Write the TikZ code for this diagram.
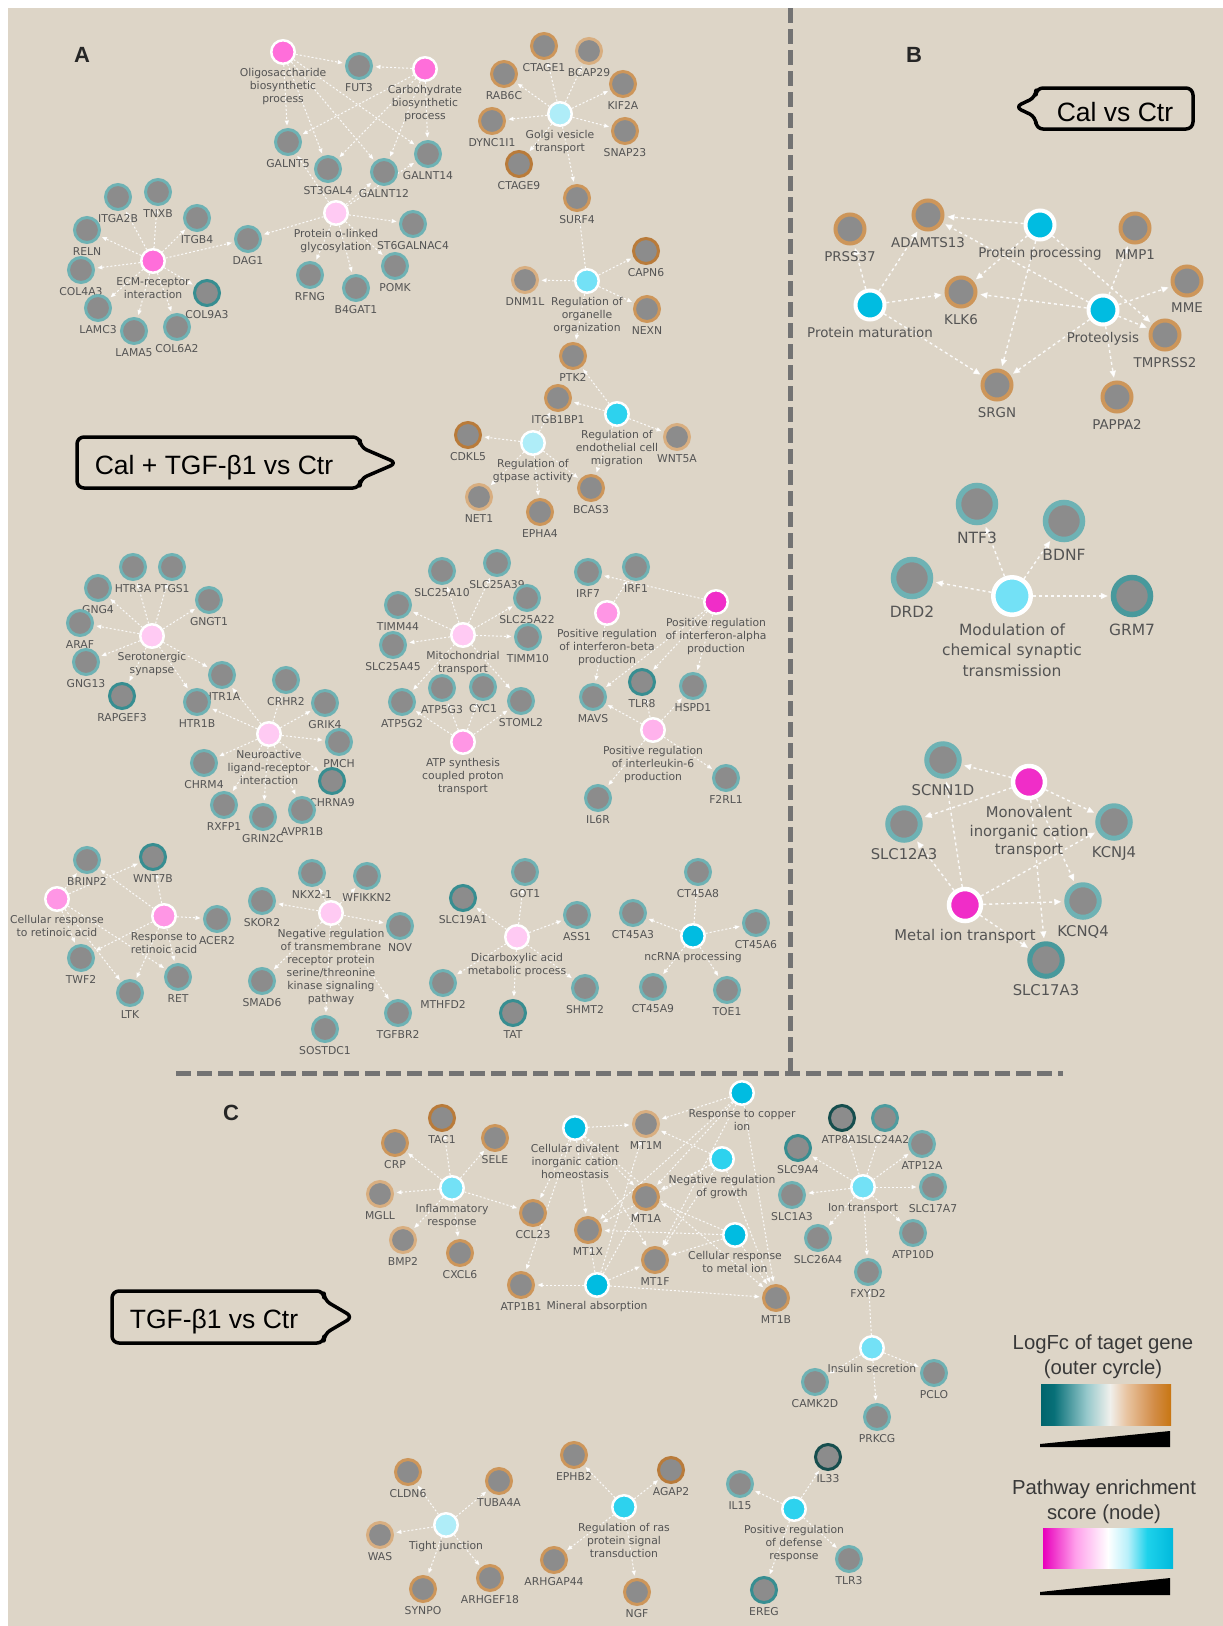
\documentclass[tikz,border=0pt]{standalone}
\usepackage{fontspec}
\setmainfont{DejaVu Sans}
\newfontfamily\arialfam{Liberation Sans}
\usetikzlibrary{arrows.meta}

\definecolor{bgbeige}{RGB}{221,213,199}
\definecolor{genegray}{RGB}{140,140,140}
\definecolor{txtgray}{RGB}{84,84,84}
\definecolor{sepgray}{RGB}{115,115,115}
\definecolor{tealring}{RGB}{110,178,180}
\definecolor{tealmid}{RGB}{55,142,145}
\definecolor{tealdark}{RGB}{22,78,78}
\definecolor{orring}{RGB}{205,150,90}
\definecolor{ordark}{RGB}{185,123,58}
\definecolor{orlight}{RGB}{216,174,128}
\definecolor{pkhot}{RGB}{240,45,200}
\definecolor{pkmag}{RGB}{255,110,218}
\definecolor{pkmid}{RGB}{255,150,229}
\definecolor{pksoft}{RGB}{255,178,236}
\definecolor{pklight}{RGB}{255,202,243}
\definecolor{cydeep}{RGB}{0,188,225}
\definecolor{cymid}{RGB}{45,210,238}
\definecolor{cylight}{RGB}{115,225,246}
\definecolor{cypale}{RGB}{175,237,248}

\definecolor{lfa}{RGB}{0,100,108}
\definecolor{lfb}{RGB}{8,112,120}
\definecolor{lfc}{RGB}{150,200,203}
\definecolor{lfd}{RGB}{240,240,236}
\definecolor{lfe}{RGB}{232,195,160}
\definecolor{lff}{RGB}{210,140,70}
\definecolor{lfg}{RGB}{200,118,18}
\definecolor{pesa}{RGB}{232,0,188}
\definecolor{pesb}{RGB}{255,160,235}
\definecolor{pesc}{RGB}{255,255,255}
\definecolor{pesd}{RGB}{185,240,250}
\definecolor{pese}{RGB}{30,210,235}
\definecolor{pesf}{RGB}{0,185,220}

\pgfdeclarehorizontalshading{logfcbar}{100bp}{color(0bp)=(lfa); color(25bp)=(lfa); color(30bp)=(lfb); color(42.5bp)=(lfc); color(51.5bp)=(lfd); color(58bp)=(lfe); color(68.5bp)=(lff); color(75bp)=(lfg); color(100bp)=(lfg)}
\pgfdeclarehorizontalshading{enrichbar}{100bp}{color(0bp)=(pesa); color(25bp)=(pesa); color(37.5bp)=(pesb); color(50bp)=(pesc); color(57.5bp)=(pesd); color(65bp)=(pese); color(75bp)=(pesf); color(100bp)=(pesf)}

\newcommand{\labsmall}{\fontsize{10.8}{13}\selectfont}
\newcommand{\labtop}{\fontsize{13.4}{17}\selectfont}
\newcommand{\labmid}{\fontsize{15.5}{20.5}\selectfont}
\newcommand{\lablow}{\fontsize{14.8}{18.5}\selectfont}

\pgfdeclarelayer{back}
\pgfdeclarelayer{links}
\pgfsetlayers{back,links,main}

\tikzset{
  gene/.style={circle, fill=genegray, draw=#1, line width=3pt, minimum size=25pt, inner sep=0pt},
  term/.style={circle, fill=#1, draw=white, line width=2.5pt, minimum size=23.5pt, inner sep=0pt},
  geneB/.style={gene=#1, line width=4pt, minimum size=29pt},
  termB/.style={term=#1, line width=4pt, minimum size=29pt},
  geneM/.style={gene=#1, line width=5.5pt, minimum size=37pt},
  termM/.style={term=#1, line width=4.5pt, minimum size=37.5pt},
  geneL/.style={gene=#1, line width=5pt, minimum size=32.5pt},
  termL/.style={term=#1, line width=4.5pt, minimum size=32pt},
  every label/.style={font=\labsmall, text=txtgray, inner sep=0pt, align=center, yshift=-3.5pt},
  link/.style={draw=white, draw opacity=0.9, line width=1pt, dash pattern=on 2pt off 2pt,
    -{Triangle[length=5pt,width=4pt]}, shorten >=2.5pt},
  linkB/.style={link, line width=1.4pt, dash pattern=on 3pt off 3pt,
    -{Triangle[length=7pt,width=6pt]}, shorten >=3pt},
  sep/.style={draw=sepgray, line width=5pt, dash pattern=on 15pt off 6pt},
  callout/.style={draw=black, line width=3.5pt, rounded corners=7pt, line join=round},
  calltext/.style={font=\arialfam\fontsize{26.5}{30}\selectfont, text=black, anchor=base, inner sep=0pt},
  panel/.style={font=\arialfam\bfseries\fontsize{22}{26}\selectfont, text=black!85, inner sep=0pt},
  legtext/.style={font=\arialfam\fontsize{20.3}{25}\selectfont, text=black!78, align=center, inner sep=0pt, anchor=north}
}

\begin{document}
\begin{tikzpicture}[x=1pt, y=1pt]
  \useasboundingbox (0,0) rectangle (1223,-1626);
  \begin{pgfonlayer}{back}
    \fill[bgbeige] (8,-8) rectangle (1223,-1626);
    \draw[sep] (790,-8) -- (790,-1071);
    \draw[sep] (176,-1073) -- (1063,-1073);
  \end{pgfonlayer}

  \node[panel] (pa) at (82,-55) {A};
  \node[panel] (pb) at (914,-55) {B};
  \node[panel] (pc) at (231,-1113) {C};

  \draw[callout] (1036,-97) -- (1015,-107) -- (1036,-117) -- (1036,-129) -- (1193,-129) -- (1193,-88) -- (1036,-88) -- cycle;
  \node[calltext] (calctr) at (1115,-121) {Cal vs Ctr};
  \draw[callout] (360,-447) -- (397,-463) -- (360,-479) -- (360,-488) -- (77,-488) -- (77,-437) -- (360,-437) -- cycle;
  \node[calltext] (caltgf) at (214,-474) {Cal + TGF-β1 vs Ctr};
  \draw[callout] (324,-1300) -- (353,-1317) -- (324,-1334) -- (324,-1343) -- (112,-1343) -- (112,-1291) -- (324,-1291) -- cycle;
  \node[calltext] (tgfctr) at (214,-1328) {TGF-β1 vs Ctr};

  \node[term=pkmag, label={below:Oligosaccharide\\biosynthetic\\process}] (oligo) at (283,-52) {};
  \node[gene=tealring, label=below:FUT3] (fut3) at (359,-66) {};
  \node[term=pkmag, label={below:Carbohydrate\\biosynthetic\\process}] (carbo) at (425,-69) {};
  \node[gene=tealring, label=below:GALNT5] (galnt5) at (288,-142) {};
  \node[gene=tealring, label=below:ST3GAL4] (st3gal4) at (328,-169) {};
  \node[gene=tealring, label=below:GALNT12] (galnt12) at (384,-172) {};
  \node[gene=tealring, label=below:GALNT14] (galnt14) at (428,-154) {};
  \node[term=pklight, label={below:Protein o-linked\\glycosylation}] (pol) at (336,-213) {};
  \node[gene=tealring, label=below:ST6GALNAC4] (st6galnac4) at (413,-224) {};
  \node[gene=tealring, label=below:POMK] (pomk) at (395,-266) {};
  \node[gene=tealring, label=below:B4GAT1] (b4gat1) at (356,-288) {};
  \node[gene=tealring, label=below:RFNG] (rfng) at (310,-275) {};
  \node[gene=tealring, label=below:DAG1] (dag1) at (248,-239) {};
  \node[term=pkmag, label={below:ECM-receptor\\interaction}] (ecm) at (153,-261) {};
  \node[gene=tealring, label=below:ITGA2B] (itga2b) at (118,-197) {};
  \node[gene=tealring, label=below:TNXB] (tnxb) at (158,-192) {};
  \node[gene=tealring, label=below:ITGB4] (itgb4) at (197,-218) {};
  \node[gene=tealring, label=below:RELN] (reln) at (87,-230) {};
  \node[gene=tealring, label=below:COL4A3] (col4a3) at (81,-270) {};
  \node[gene=tealring, label=below:LAMC3] (lamc3) at (98,-308) {};
  \node[gene=tealring, label=below:LAMA5] (lama5) at (134,-331) {};
  \node[gene=tealring, label=below:COL6A2] (col6a2) at (177,-327) {};
  \node[gene=tealmid, label=below:COL9A3] (col9a3) at (207,-293) {};

  \node[gene=orring, label=below:CTAGE1] (ctage1) at (544,-46) {};
  \node[gene=orlight, label=below:BCAP29] (bcap29) at (589,-51) {};
  \node[gene=orring, label=below:RAB6C] (rab6c) at (504,-74) {};
  \node[gene=orring, label=below:KIF2A] (kif2a) at (623,-84) {};
  \node[gene=orring, label=below:DYNC1I1] (dync1i1) at (492,-121) {};
  \node[term=cypale, label={below:Golgi vesicle\\transport}] (golgi) at (560,-114) {};
  \node[gene=orring, label=below:SNAP23] (snap23) at (625,-131) {};
  \node[gene=ordark, label=below:CTAGE9] (ctage9) at (519,-164) {};
  \node[gene=orring, label=below:SURF4] (surf4) at (577,-198) {};
  \node[gene=ordark, label=below:CAPN6] (capn6) at (646,-251) {};
  \node[gene=orlight, label=below:DNM1L] (dnm1l) at (525,-280) {};
  \node[term=cylight, label={below:Regulation of\\organelle\\organization}] (organelle) at (587,-281) {};
  \node[gene=orring, label=below:NEXN] (nexn) at (647,-309) {};
  \node[gene=orring, label=below:PTK2] (ptk2) at (573,-356) {};
  \node[gene=orring, label=below:ITGB1BP1] (itgb1bp1) at (558,-398) {};
  \node[term=cymid, label={below:Regulation of\\endothelial cell\\migration}] (endo) at (617,-414) {};
  \node[gene=orlight, label=below:WNT5A] (wnt5a) at (677,-437) {};
  \node[gene=ordark, label=below:CDKL5] (cdkl5) at (468,-435) {};
  \node[term=cypale, label={below:Regulation of\\gtpase activity}] (gtp) at (533,-443) {};
  \node[gene=orring, label=below:BCAS3] (bcas3) at (591,-488) {};
  \node[gene=orlight, label=below:NET1] (net1) at (479,-497) {};
  \node[gene=orring, label=below:EPHA4] (epha4) at (540,-512) {};

  \node[gene=tealring, label=below:HTR3A] (htr3a) at (133,-567) {};
  \node[gene=tealring, label=below:PTGS1] (ptgs1) at (172,-567) {};
  \node[gene=tealring, label=below:GNG4] (gng4) at (98,-588) {};
  \node[gene=tealring, label=below:GNGT1] (gngt1) at (209,-600) {};
  \node[gene=tealring, label=below:ARAF] (araf) at (80,-623) {};
  \node[term=pklight, label={below:Serotonergic\\synapse}] (sero) at (152,-636) {};
  \node[gene=tealring, label=below:GNG13] (gng13) at (86,-662) {};
  \node[gene=tealmid, label=below:RAPGEF3] (rapgef3) at (122,-696) {};
  \node[gene=tealring, label=below:HTR1A] (htr1a) at (222,-675) {};
  \node[gene=tealring, label=below:HTR1B] (htr1b) at (197,-702) {};
  \node[gene=tealring, label=below:CRHR2] (crhr2) at (286,-680) {};
  \node[gene=tealring, label=below:GRIK4] (grik4) at (325,-703) {};
  \node[term=pklight, label={below:Neuroactive\\ligand-receptor\\interaction}] (neuro) at (269,-734) {};
  \node[gene=tealring, label=below:PMCH] (pmch) at (339,-742) {};
  \node[gene=tealring, label=below:CHRM4] (chrm4) at (204,-763) {};
  \node[gene=tealmid, label=below:CHRNA9] (chrna9) at (332,-781) {};
  \node[gene=tealring, label=below:RXFP1] (rxfp1) at (224,-805) {};
  \node[gene=tealring, label=below:GRIN2C] (grin2c) at (263,-817) {};
  \node[gene=tealring, label=below:AVPR1B] (avpr1b) at (302,-810) {};

  \node[gene=tealring, label=below:SLC25A10] (slc25a10) at (442,-571) {};
  \node[gene=tealring, label=below:SLC25A39] (slc25a39) at (497,-563) {};
  \node[gene=tealring, label=below:TIMM44] (timm44) at (398,-605) {};
  \node[gene=tealring, label=below:SLC25A22] (slc25a22) at (527,-598) {};
  \node[term=pklight, label={below:Mitochondrial\\transport}] (mito) at (463,-635) {};
  \node[gene=tealring, label=below:TIMM10] (timm10) at (528,-637) {};
  \node[gene=tealring, label=below:SLC25A45] (slc25a45) at (393,-645) {};
  \node[gene=tealring, label=below:ATP5G2] (atp5g2) at (402,-702) {};
  \node[gene=tealring, label=below:ATP5G3] (atp5g3) at (442,-688) {};
  \node[gene=tealring, label=below:CYC1] (cyc1) at (483,-687) {};
  \node[gene=tealring, label=below:STOML2] (stoml2) at (521,-701) {};
  \node[term=pkmid, label={below:ATP synthesis\\coupled proton\\transport}] (atps) at (463,-742) {};

  \node[gene=tealring, label=below:IRF7] (irf7) at (588,-572) {};
  \node[gene=tealring, label=below:IRF1] (irf1) at (636,-567) {};
  \node[term=pkmid, label={below:Positive regulation\\of interferon-beta\\production}] (ifnb) at (607,-613) {};
  \node[term=pkhot, label={below:Positive regulation\\of interferon-alpha\\production}] (ifna) at (716,-602) {};
  \node[gene=tealmid, label=below:TLR8] (tlr8) at (642,-682) {};
  \node[gene=tealring, label=below:HSPD1] (hspd1) at (693,-686) {};
  \node[gene=tealring, label=below:MAVS] (mavs) at (593,-697) {};
  \node[term=pksoft, label={below:Positive regulation\\of interleukin-6\\production}] (il6) at (653,-730) {};
  \node[gene=tealring, label=below:F2RL1] (f2rl1) at (726,-778) {};
  \node[gene=tealring, label=below:IL6R] (il6r) at (598,-798) {};

  \node[gene=tealring, label=below:BRINP2] (brinp2) at (87,-860) {};
  \node[gene=tealmid, label=below:WNT7B] (wnt7b) at (153,-857) {};
  \node[term=pkmid, label={below:Cellular response\\to retinoic acid}] (cra) at (57,-899) {};
  \node[term=pkmid, label={below:Response to\\retinoic acid}] (rra) at (164,-916) {};
  \node[gene=tealring, label=below:ACER2] (acer2) at (217,-919) {};
  \node[gene=tealring, label=below:TWF2] (twf2) at (81,-958) {};
  \node[gene=tealring, label=below:LTK] (ltk) at (130,-993) {};
  \node[gene=tealring, label=below:RET] (ret) at (178,-977) {};

  \node[gene=tealring, label=below:NKX2-1] (nkx21) at (312,-873) {};
  \node[gene=tealring, label=below:WFIKKN2] (wfikkn2) at (367,-876) {};
  \node[gene=tealring, label=below:SKOR2] (skor2) at (262,-901) {};
  \node[term=pklight, label={below:Negative regulation\\of transmembrane\\receptor protein\\serine/threonine\\kinase signaling\\pathway}] (nreg) at (331,-913) {};
  \node[gene=tealring, label=below:NOV] (nov) at (400,-926) {};
  \node[gene=tealring, label=below:SMAD6] (smad6) at (262,-981) {};
  \node[gene=tealring, label=below:SOSTDC1] (sostdc1) at (325,-1029) {};
  \node[gene=tealring, label=below:TGFBR2] (tgfbr2) at (398,-1013) {};

  \node[gene=tealmid, label=below:SLC19A1] (slc19a1) at (463,-898) {};
  \node[gene=tealring, label=below:GOT1] (got1) at (525,-872) {};
  \node[gene=tealring, label=below:ASS1] (ass1) at (577,-915) {};
  \node[term=pklight, label={below:Dicarboxylic acid\\metabolic process}] (dica) at (517,-937) {};
  \node[gene=tealring, label=below:MTHFD2] (mthfd2) at (443,-983) {};
  \node[gene=tealmid, label=below:TAT] (tat) at (513,-1013) {};
  \node[gene=tealring, label=below:SHMT2] (shmt2) at (585,-988) {};

  \node[gene=tealring, label=below:CT45A8] (ct45a8) at (698,-872) {};
  \node[gene=tealring, label=below:CT45A3] (ct45a3) at (633,-913) {};
  \node[term=cydeep, label={below:ncRNA processing}] (ncrna) at (693,-936) {};
  \node[gene=tealring, label=below:CT45A6] (ct45a6) at (756,-923) {};
  \node[gene=tealring, label=below:CT45A9] (ct45a9) at (653,-987) {};
  \node[gene=tealring, label=below:TOE1] (toe1) at (727,-990) {};

  \begin{scope}[every label/.style={font=\labtop, text=txtgray, inner sep=0pt, align=center, yshift=-5.5pt}]
    \node[geneB=orring, label=below:PRSS37] (prss37) at (850,-229) {};
    \node[geneB=orring, label=below:ADAMTS13] (adamts13) at (928,-215) {};
    \node[termB=cydeep, label=below:Protein processing] (pproc) at (1040,-225) {};
    \node[geneB=orring, label=below:MMP1] (mmp1) at (1135,-228) {};
    \node[geneB=orring, label=below:MME] (mme) at (1187,-281) {};
    \node[geneB=orring, label=below:KLK6] (klk6) at (961,-292) {};
    \node[termB=cydeep, label=below:Protein maturation] (pmat) at (870,-305) {};
    \node[termB=cydeep, label=below:Proteolysis] (ptlys) at (1103,-310) {};
    \node[geneB=orring, label=below:TMPRSS2] (tmprss2) at (1165,-335) {};
    \node[geneB=orring, label=below:SRGN] (srgn) at (997,-385) {};
    \node[geneB=orring, label=below:PAPPA2] (pappa2) at (1117,-397) {};
  \end{scope}

  \begin{scope}[every label/.style={font=\labmid, text=txtgray, inner sep=0pt, align=center, yshift=-6.3pt}]
    \node[geneM=tealring, label=below:NTF3] (ntf3) at (977,-504) {};
    \node[geneM=tealring, label=below:BDNF] (bdnf) at (1064,-521) {};
    \node[geneM=tealring, label=below:DRD2] (drd2) at (912,-578) {};
    \node[termM=cylight, label={below:Modulation of\\chemical synaptic\\transmission}] (modul) at (1012,-596) {};
    \node[geneM=tealmid!70!tealring, label=below:GRM7] (grm7) at (1132,-596) {};
  \end{scope}

  \begin{scope}[every label/.style={font=\lablow, text=txtgray, inner sep=0pt, align=center, yshift=-6pt}]
    \node[geneL=tealring, label=below:SCNN1D] (scnn1d) at (943,-760) {};
    \node[termL=pkhot, label={below:Monovalent\\inorganic cation\\transport}] (mono) at (1029,-782) {};
    \node[geneL=tealring, label=below:SLC12A3] (slc12a3) at (904,-824) {};
    \node[geneL=tealring, label=below:KCNJ4] (kcnj4) at (1114,-822) {};
    \node[termL=pkhot, label=below:Metal ion transport] (metal) at (965,-905) {};
    \node[geneL=tealring, label=below:KCNQ4] (kcnq4) at (1083,-901) {};
    \node[geneL=tealmid!70!tealring, label=below:SLC17A3] (slc17a3) at (1046,-960) {};
  \end{scope}

  \node[gene=ordark, label=below:TAC1] (tac1) at (442,-1118) {};
  \node[gene=orring, label=below:SELE] (sele) at (495,-1138) {};
  \node[gene=orring, label=below:CRP] (crp) at (395,-1143) {};
  \node[gene=orlight, label=below:MGLL] (mgll) at (380,-1194) {};
  \node[term=cylight, label={below:Inflammatory\\response}] (infl) at (452,-1188) {};
  \node[gene=orlight, label=below:BMP2] (bmp2) at (403,-1240) {};
  \node[gene=orring, label=below:CXCL6] (cxcl6) at (460,-1253) {};
  \node[gene=orring, label=below:CCL23] (ccl23) at (533,-1213) {};

  \node[term=cydeep, label={below:Response to copper\\ion}] (copper) at (742,-1093) {};
  \node[term=cydeep, label={below:Cellular divalent\\inorganic cation\\homeostasis}] (dival) at (575,-1128) {};
  \node[gene=orlight, label=below:MT1M] (mt1m) at (646,-1124) {};
  \node[term=cymid, label={below:Negative regulation\\of growth}] (growth) at (722,-1159) {};
  \node[gene=orring, label=below:MT1A] (mt1a) at (646,-1197) {};
  \node[gene=orring, label=below:MT1X] (mt1x) at (588,-1230) {};
  \node[term=cydeep, label={below:Cellular response\\to metal ion}] (metalresp) at (735,-1235) {};
  \node[gene=orring, label=below:MT1F] (mt1f) at (655,-1260) {};
  \node[term=cydeep, label=below:Mineral absorption] (mineral) at (597,-1285) {};
  \node[gene=orring, label=below:ATP1B1] (atp1b1) at (521,-1285) {};
  \node[gene=orring, label=below:MT1B] (mt1b) at (776,-1298) {};

  \node[gene=tealdark, label=below:ATP8A1] (atp8a1) at (842,-1118) {};
  \node[gene=tealmid!60!tealring, label=below:SLC24A2] (slc24a2) at (885,-1118) {};
  \node[gene=tealring, label=below:ATP12A] (atp12a) at (922,-1144) {};
  \node[gene=tealmid, label=below:SLC9A4] (slc9a4) at (798,-1148) {};
  \node[term=cylight, label=below:Ion transport] (iont) at (863,-1187) {};
  \node[gene=tealring, label=below:SLC17A7] (slc17a7) at (933,-1187) {};
  \node[gene=tealring, label=below:SLC1A3] (slc1a3) at (792,-1195) {};
  \node[gene=tealring, label=below:SLC26A4] (slc26a4) at (818,-1238) {};
  \node[gene=tealring, label=below:ATP10D] (atp10d) at (913,-1233) {};
  \node[gene=tealring, label=below:FXYD2] (fxyd2) at (868,-1272) {};
  \node[term=cylight, label=below:Insulin secretion] (insulin) at (872,-1348) {};
  \node[gene=tealring, label=below:PCLO] (pclo) at (934,-1373) {};
  \node[gene=tealring, label=below:CAMK2D] (camk2d) at (815,-1382) {};
  \node[gene=tealring, label=below:PRKCG] (prkcg) at (877,-1417) {};

  \node[gene=orring, label=below:CLDN6] (cldn6) at (408,-1472) {};
  \node[gene=orring, label=below:TUBA4A] (tuba4a) at (499,-1481) {};
  \node[gene=orlight, label=below:WAS] (was) at (380,-1535) {};
  \node[term=cypale, label=below:Tight junction] (tight) at (446,-1525) {};
  \node[gene=orring, label=below:SYNPO] (synpo) at (423,-1589) {};
  \node[gene=orring, label=below:ARHGEF18] (arhgef18) at (490,-1578) {};

  \node[gene=orring, label=below:EPHB2] (ephb2) at (574,-1455) {};
  \node[gene=ordark, label=below:AGAP2] (agap2) at (671,-1470) {};
  \node[term=cymid, label={below:Regulation of ras\\protein signal\\transduction}] (ras) at (624,-1507) {};
  \node[gene=orring, label=below:ARHGAP44] (arhgap44) at (554,-1560) {};
  \node[gene=orring, label=below:NGF] (ngf) at (637,-1592) {};

  \node[gene=tealring, label=below:IL15] (il15) at (740,-1484) {};
  \node[gene=tealdark, label=below:IL33] (il33) at (828,-1457) {};
  \node[term=cymid, label={below:Positive regulation\\of defense\\response}] (defense) at (794,-1509) {};
  \node[gene=tealmid, label=below:EREG] (ereg) at (764,-1590) {};
  \node[gene=tealring, label=below:TLR3] (tlr3) at (849,-1559) {};

  \node[legtext] (leglogfc) at (1103,-1335) {LogFc of taget gene\\(outer cyrcle)};
  \node[legtext] (legenrich) at (1104,-1480) {Pathway enrichment\\score (node)};
  \shade[shading=logfcbar] (1041,-1384) rectangle (1171,-1425);
  \fill[black] (1040,-1447) -- (1170,-1447) -- (1170,-1431) -- (1040,-1444) -- cycle;
  \shade[shading=enrichbar] (1043,-1528) rectangle (1173,-1568);
  \fill[black] (1040,-1595) -- (1170,-1595) -- (1170,-1578) -- (1040,-1592) -- cycle;

  \begin{pgfonlayer}{links}
    \draw[link] (oligo) -- (fut3);
    \draw[link] (oligo) -- (galnt5);
    \draw[link] (oligo) -- (st3gal4);
    \draw[link] (oligo) -- (galnt12);
    \draw[link] (oligo) -- (galnt14);
    \draw[link] (carbo) -- (fut3);
    \draw[link] (carbo) -- (galnt5);
    \draw[link] (carbo) -- (st3gal4);
    \draw[link] (carbo) -- (galnt12);
    \draw[link] (carbo) -- (galnt14);
    \draw[link] (pol) -- (galnt5);
    \draw[link] (pol) -- (galnt12);
    \draw[link] (pol) -- (galnt14);
    \draw[link] (pol) -- (st6galnac4);
    \draw[link] (pol) -- (pomk);
    \draw[link] (pol) -- (b4gat1);
    \draw[link] (pol) -- (rfng);
    \draw[link] (pol) -- (dag1);
    \draw[link] (ecm) -- (dag1);
    \draw[link] (ecm) -- (itga2b);
    \draw[link] (ecm) -- (tnxb);
    \draw[link] (ecm) -- (itgb4);
    \draw[link] (ecm) -- (reln);
    \draw[link] (ecm) -- (col4a3);
    \draw[link] (ecm) -- (lamc3);
    \draw[link] (ecm) -- (lama5);
    \draw[link] (ecm) -- (col6a2);
    \draw[link] (ecm) -- (col9a3);

    \draw[link] (golgi) -- (ctage1);
    \draw[link] (golgi) -- (bcap29);
    \draw[link] (golgi) -- (rab6c);
    \draw[link] (golgi) -- (kif2a);
    \draw[link] (golgi) -- (dync1i1);
    \draw[link] (golgi) -- (snap23);
    \draw[link] (golgi) -- (ctage9);
    \draw[link] (golgi) -- (surf4);
    \draw[link] (organelle) -- (surf4);
    \draw[link] (organelle) -- (capn6);
    \draw[link] (organelle) -- (dnm1l);
    \draw[link] (organelle) -- (nexn);
    \draw[link] (organelle) -- (ptk2);
    \draw[link] (endo) -- (ptk2);
    \draw[link] (endo) -- (itgb1bp1);
    \draw[link] (endo) -- (wnt5a);
    \draw[link] (endo) -- (bcas3);
    \draw[link] (gtp) -- (itgb1bp1);
    \draw[link] (gtp) -- (cdkl5);
    \draw[link] (gtp) -- (net1);
    \draw[link] (gtp) -- (epha4);
    \draw[link] (gtp) -- (bcas3);

    \draw[link] (sero) -- (htr3a);
    \draw[link] (sero) -- (ptgs1);
    \draw[link] (sero) -- (gng4);
    \draw[link] (sero) -- (gngt1);
    \draw[link] (sero) -- (araf);
    \draw[link] (sero) -- (gng13);
    \draw[link] (sero) -- (rapgef3);
    \draw[link] (sero) -- (htr1a);
    \draw[link] (sero) -- (htr1b);
    \draw[link] (neuro) -- (htr1a);
    \draw[link] (neuro) -- (htr1b);
    \draw[link] (neuro) -- (crhr2);
    \draw[link] (neuro) -- (grik4);
    \draw[link] (neuro) -- (pmch);
    \draw[link] (neuro) -- (chrm4);
    \draw[link] (neuro) -- (chrna9);
    \draw[link] (neuro) -- (rxfp1);
    \draw[link] (neuro) -- (grin2c);
    \draw[link] (neuro) -- (avpr1b);

    \draw[link] (mito) -- (timm44);
    \draw[link] (mito) -- (slc25a10);
    \draw[link] (mito) -- (slc25a39);
    \draw[link] (mito) -- (slc25a22);
    \draw[link] (mito) -- (timm10);
    \draw[link] (mito) -- (slc25a45);
    \draw[link] (mito) -- (atp5g2);
    \draw[link] (mito) -- (stoml2);
    \draw[link] (atps) -- (atp5g2);
    \draw[link] (atps) -- (atp5g3);
    \draw[link] (atps) -- (cyc1);
    \draw[link] (atps) -- (stoml2);

    \draw[link] (ifnb) -- (irf1);
    \draw[link] (ifnb) -- (mavs);
    \draw[link] (ifna) -- (irf7);
    \draw[link] (ifna) -- (mavs);
    \draw[link] (ifna) -- (tlr8);
    \draw[link] (ifna) -- (hspd1);
    \draw[link] (il6) -- (mavs);
    \draw[link] (il6) -- (tlr8);
    \draw[link] (il6) -- (hspd1);
    \draw[link] (il6) -- (f2rl1);
    \draw[link] (il6) -- (il6r);

    \draw[link] (cra) -- (brinp2);
    \draw[link] (cra) -- (wnt7b);
    \draw[link] (cra) -- (twf2);
    \draw[link] (cra) -- (ltk);
    \draw[link] (cra) -- (ret);
    \draw[link] (rra) -- (brinp2);
    \draw[link] (rra) -- (wnt7b);
    \draw[link] (rra) -- (acer2);
    \draw[link] (rra) -- (twf2);
    \draw[link] (rra) -- (ltk);
    \draw[link] (rra) -- (ret);

    \draw[link] (nreg) -- (nkx21);
    \draw[link] (nreg) -- (wfikkn2);
    \draw[link] (nreg) -- (skor2);
    \draw[link] (nreg) -- (nov);
    \draw[link] (nreg) -- (smad6);
    \draw[link] (nreg) -- (sostdc1);
    \draw[link] (nreg) -- (tgfbr2);

    \draw[link] (dica) -- (slc19a1);
    \draw[link] (dica) -- (got1);
    \draw[link] (dica) -- (ass1);
    \draw[link] (dica) -- (mthfd2);
    \draw[link] (dica) -- (tat);
    \draw[link] (dica) -- (shmt2);
    \draw[link] (ncrna) -- (ct45a8);
    \draw[link] (ncrna) -- (ct45a3);
    \draw[link] (ncrna) -- (ct45a6);
    \draw[link] (ncrna) -- (ct45a9);
    \draw[link] (ncrna) -- (toe1);

    \draw[linkB] (pproc) -- (adamts13);
    \draw[linkB] (pproc) -- (klk6);
    \draw[linkB] (pproc) -- (srgn);
    \draw[linkB] (pproc) -- (tmprss2);
    \draw[linkB] (pmat) -- (prss37);
    \draw[linkB] (pmat) -- (adamts13);
    \draw[linkB] (pmat) -- (klk6);
    \draw[linkB] (pmat) -- (srgn);
    \draw[linkB] (ptlys) -- (adamts13);
    \draw[linkB] (ptlys) -- (klk6);
    \draw[linkB] (ptlys) -- (mmp1);
    \draw[linkB] (ptlys) -- (mme);
    \draw[linkB] (ptlys) -- (tmprss2);
    \draw[linkB] (ptlys) -- (pappa2);
    \draw[linkB] (ptlys) -- (srgn);
    \draw[linkB] (modul) -- (ntf3);
    \draw[linkB] (modul) -- (bdnf);
    \draw[linkB] (modul) -- (drd2);
    \draw[linkB] (modul) -- (grm7);
    \draw[linkB] (mono) -- (scnn1d);
    \draw[linkB] (mono) -- (slc12a3);
    \draw[linkB] (mono) -- (kcnj4);
    \draw[linkB] (mono) -- (kcnq4);
    \draw[linkB] (mono) -- (slc17a3);
    \draw[linkB] (metal) -- (scnn1d);
    \draw[linkB] (metal) -- (slc12a3);
    \draw[linkB] (metal) -- (kcnj4);
    \draw[linkB] (metal) -- (kcnq4);
    \draw[linkB] (metal) -- (slc17a3);

    \draw[link] (infl) -- (tac1);
    \draw[link] (infl) -- (sele);
    \draw[link] (infl) -- (crp);
    \draw[link] (infl) -- (mgll);
    \draw[link] (infl) -- (bmp2);
    \draw[link] (infl) -- (cxcl6);
    \draw[link] (infl) -- (ccl23);
    \draw[link] (copper) -- (mt1m);
    \draw[link] (copper) -- (mt1a);
    \draw[link] (copper) -- (mt1x);
    \draw[link] (copper) -- (mt1f);
    \draw[link] (copper) -- (mt1b);
    \draw[link] (dival) -- (mt1m);
    \draw[link] (dival) -- (mt1a);
    \draw[link] (dival) -- (mt1x);
    \draw[link] (dival) -- (mt1f);
    \draw[link] (dival) -- (mt1b);
    \draw[link] (dival) -- (ccl23);
    \draw[link] (dival) -- (atp1b1);
    \draw[link] (growth) -- (mt1m);
    \draw[link] (growth) -- (mt1a);
    \draw[link] (growth) -- (mt1x);
    \draw[link] (growth) -- (mt1f);
    \draw[link] (growth) -- (mt1b);
    \draw[link] (metalresp) -- (mt1a);
    \draw[link] (metalresp) -- (mt1x);
    \draw[link] (metalresp) -- (mt1f);
    \draw[link] (metalresp) -- (mt1b);
    \draw[link] (mineral) -- (atp1b1);
    \draw[link] (mineral) -- (mt1x);
    \draw[link] (mineral) -- (mt1a);
    \draw[link] (mineral) -- (mt1f);
    \draw[link] (mineral) -- (mt1b);
    \draw[link] (mineral) -- (mt1m);

    \draw[link] (iont) -- (atp8a1);
    \draw[link] (iont) -- (slc24a2);
    \draw[link] (iont) -- (atp12a);
    \draw[link] (iont) -- (slc9a4);
    \draw[link] (iont) -- (slc17a7);
    \draw[link] (iont) -- (slc1a3);
    \draw[link] (iont) -- (slc26a4);
    \draw[link] (iont) -- (atp10d);
    \draw[link] (iont) -- (fxyd2);
    \draw[link] (insulin) -- (fxyd2);
    \draw[link] (insulin) -- (pclo);
    \draw[link] (insulin) -- (camk2d);
    \draw[link] (insulin) -- (prkcg);

    \draw[link] (tight) -- (cldn6);
    \draw[link] (tight) -- (tuba4a);
    \draw[link] (tight) -- (was);
    \draw[link] (tight) -- (synpo);
    \draw[link] (tight) -- (arhgef18);
    \draw[link] (ras) -- (ephb2);
    \draw[link] (ras) -- (agap2);
    \draw[link] (ras) -- (arhgap44);
    \draw[link] (ras) -- (ngf);
    \draw[link] (defense) -- (il15);
    \draw[link] (defense) -- (il33);
    \draw[link] (defense) -- (ereg);
    \draw[link] (defense) -- (tlr3);
  \end{pgfonlayer}
\end{tikzpicture}
\end{document}
